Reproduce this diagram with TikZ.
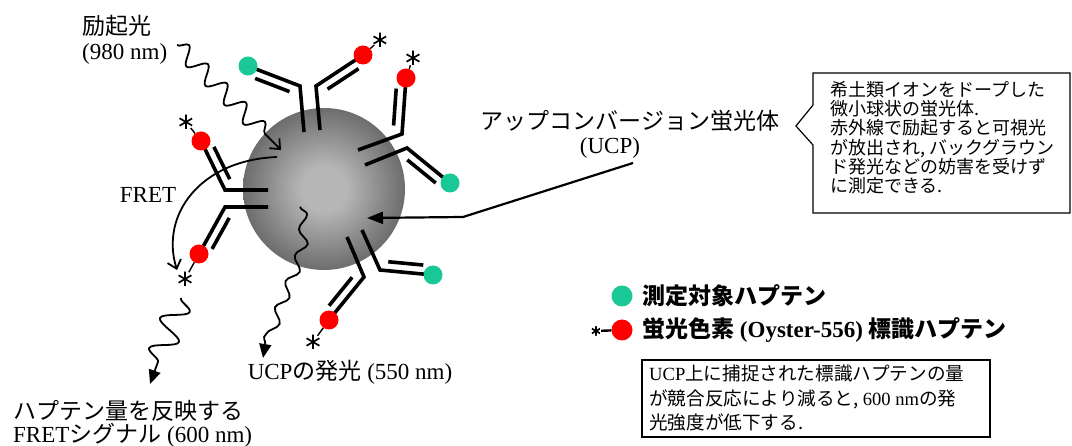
\documentclass[tikz,border=0pt]{standalone}
\usepackage{fontspec}
\setmainfont{Liberation Serif}
\newfontfamily\jp{Noto Sans CJK JP}
\usetikzlibrary{arrows.meta, decorations.pathmorphing, calc}

\definecolor{hapgreen}{RGB}{25,200,150}
\definecolor{hapred}{RGB}{255,0,0}
\definecolor{ucplight}{RGB}{182,182,182}
\definecolor{ucpdark}{RGB}{68,68,68}

\pgfdeclareradialshading{ucpball}{\pgfpoint{0bp}{0bp}}{color(0bp)=(ucplight); color(7bp)=(ucplight); color(35bp)=(ucpdark); color(50bp)=(ucpdark)}

\newcommand\jtext[1]{{\jp #1}}

% one arm of an antibody: stem, bend, hapten, outer side (90/-90), style, name
\newcommand\abarm[6]{%
  \draw[chain] #1 -- #2 -- #3;
  \coordinate (lcA) at ($#2!0.14!#3$);
  \coordinate (lcB) at ($#2!0.80!#3$);
  \coordinate (lcO) at ($(lcA)!9pt!#4:(lcB)$);
  \draw[chain] (lcO) -- ($(lcO)+(lcB)-(lcA)$);
  \node[#5] (#6) at #3 {};
}

\tikzset{
  chain/.style={line width=3.6pt},
  green hapten/.style={circle, fill=hapgreen, minimum size=19pt, inner sep=0pt},
  red hapten/.style={circle, fill=hapred, minimum size=19pt, inner sep=0pt},
  asterisk/.style={circle, minimum size=#1, inner sep=0pt, path picture={
    \foreach \a in {90,30,-30}
      \draw[line width=1.7pt] (path picture bounding box.center) ++(\a:#1/2) -- ++(\a+180:#1);}},
  asterisk/.default=15pt,
  tether/.style={line width=1.4pt},
  txt/.style={inner sep=0pt, font=\fontsize{23}{27}\selectfont},
  legend/.style={inner sep=0pt, font=\fontsize{23}{27}\selectfont\bfseries},
  boxtext/.style={inner sep=0pt, align=left, font=\fontsize{18}{19.3}\selectfont\jp},
  wave/.style={line width=1.8pt, decorate,
    decoration={snake, amplitude=8.5pt, segment length=27pt, post length=10pt}},
  openhead/.style={-{Straight Barb[length=8pt, width=14pt]}},
  fullhead/.style={-{Triangle[length=14pt, width=12pt]}},
}

\begin{document}
\begin{tikzpicture}[x=1pt, y=-1pt]
\useasboundingbox (0,0) rectangle (1072,446);

% the particle
\shade[shading=ucpball] (324,189) circle (81);

% antibodies with haptens
\abarm{(304,132)}{(300,86)}{(248,66)}{90}{green hapten}{gA}
\abarm{(320,130)}{(316,86)}{(363,55)}{-90}{red hapten}{rA}
\abarm{(358,150)}{(402,134)}{(406,78)}{90}{red hapten}{rB}
\abarm{(365,165)}{(407,148)}{(450,183)}{-90}{green hapten}{gB}
\abarm{(268,190)}{(225,190)}{(201,141)}{-90}{red hapten}{rC}
\abarm{(268,207)}{(225,207)}{(199,254)}{90}{red hapten}{rD}
\abarm{(347,237)}{(364,277)}{(329,320)}{-90}{red hapten}{rE}
\abarm{(362,230)}{(380,270)}{(433,275)}{90}{green hapten}{gE}

% dye marks
\node[asterisk] (sA) at (380,40) {};
\node[asterisk] (sB) at (413,58) {};
\node[asterisk] (sC) at (186,122) {};
\node[asterisk] (sD) at (185,279) {};
\node[asterisk] (sE) at (313,342) {};
\draw[tether] (rA) -- (sA);
\draw[tether] (rB) -- (sB);
\draw[tether] (rC) -- (sC);
\draw[tether] (rD) -- (sD);
\draw[tether] (rE) -- (sE);

% light paths
\draw[wave, openhead] (177,45) -- (281,150);
\draw[wave, fullhead, decoration={snake, amplitude=5pt, segment length=28pt, post length=12pt}]
  (300,207) .. controls (312,250) and (272,292) .. (263,358);
\draw[wave, fullhead, decoration={snake, amplitude=13pt, segment length=32pt, post length=10pt}]
  (181,298) -- (150,384);
\draw[line width=1.8pt, openhead] (277,157) .. controls (200,160) and (160,215) .. (177,270);

% pointer into the particle
\coordinate (ucpin) at (367,218);
\coordinate (ucpbend) at (463,217);
\coordinate (ucptail) at (633,163);
\draw[line width=2.2pt, -{Triangle[length=16pt, width=12pt]}] (ucptail) -- (ucpbend) -- (ucpin);

% labels
\node[txt, anchor=west] (exc) at (82,26) {\jtext{励起光}};
\node[txt, anchor=west] (excnm) at (82,54) {(980 nm)};
\node[txt] (fret) at (148,195) {FRET};
\node[txt] (ucpname) at (630,121) {\jtext{アップコンバージョン蛍光体}};
\node[txt] (ucpabbr) at (610,148) {(UCP)};
\node[txt] (emit) at (350,372) {UCP\jtext{の発光} (550 nm)};
\node[txt, anchor=west] (sig1) at (13,411) {\jtext{ハプテン量を反映する}};
\node[txt, anchor=west] (sig2) at (13,435) {FRET\jtext{シグナル} (600 nm)};

% callout note
\draw[line width=1.2pt] (813,73) -- (1070,73) -- (1070,213) -- (813,213)
  -- (813,145) -- (796,126) -- (813,105) -- cycle;
\node[boxtext, anchor=north west] (note) at (830,81)
  {希土類イオンをドープした\\微小球状の蛍光体.\\赤外線で励起すると可視光\\が放出され, バックグラウン\\ド発光などの妨害を受けず\\に測定できる.};

% legend
\node[green hapten, minimum size=21pt] (lgG) at (622,296) {};
\node[legend, anchor=west] (lgGt) at (642,296) {\jtext{測定対象ハプテン}};
\node[red hapten, minimum size=21pt] (lgR) at (622,330) {};
\node[asterisk=10pt] (lgS) at (596,331) {};
\draw[line width=2.4pt] (lgS) -- (lgR);
\node[legend, anchor=west] (lgRt) at (642,330) {\jtext{蛍光色素} (Oyster-556) \jtext{標識ハプテン}};

% result note
\draw[line width=1.2pt] (642,360) rectangle (990,437);
\node[boxtext, anchor=north west, font=\fontsize{18.6}{24.5}\selectfont\jp] (result) at (649,365)
  {{\rmfamily UCP}上に捕捉された標識ハプテンの量\\が競合反応により減ると, {\rmfamily 600 nm}の発\\光強度が低下する.};
\end{tikzpicture}
\end{document}
